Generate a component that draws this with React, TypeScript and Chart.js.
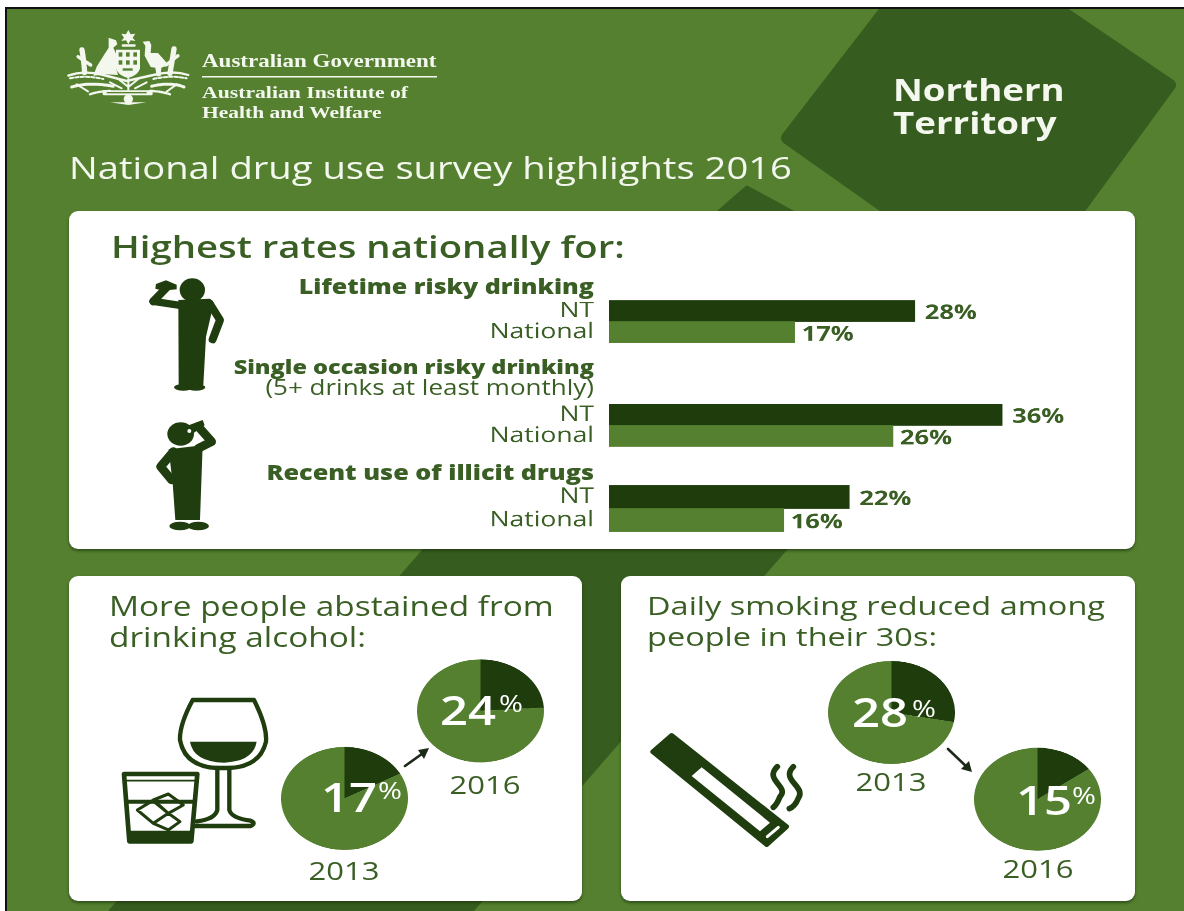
import React, { useEffect, useRef } from "react";
import { Chart, registerables } from "chart.js";

Chart.register(...registerables);

// ---- data ----
const barCategories = ["NT", "National"];
const lifetimeRisky = [28, 17];
const singleOccasion = [36, 26];
const illicitDrugs = [22, 16];

const abstain2013 = [17, 83];
const abstain2016 = [24, 76];
const smoking2013 = [28, 72];
const smoking2016 = [15, 85];

// ---- style ----
const FONT = '"Open Sans", sans-serif';
const SERIF = '"Liberation Serif", serif';
const BG = "#54802f";
const DEEP = "#375c1f";
const DARK = "#1e3c0c";
const TEXT = "#3a5f24";
const ICON = "#1f3d0e";
const LIGHT = "#f3f7ee";
const S = 103 / 127; // the picture is squeezed vertically
const Y = (v: number) => v / S;

const barValuePlugin = {
  id: "barValues",
  afterDatasetsDraw(chart: any) {
    const ctx = chart.ctx;
    const meta = chart.getDatasetMeta(0);
    ctx.save();
    ctx.fillStyle = TEXT;
    ctx.font = `700 25.5px ${FONT}`;
    ctx.textAlign = "left";
    ctx.textBaseline = "middle";
    meta.data.forEach((el: any, i: number) => {
      ctx.fillText(`${chart.data.datasets[0].data[i]}%`, el.x + (i === 0 ? 10 : 7), el.y + 3);
    });
    ctx.restore();
  },
};

function BarGroup({ values, top, height }: { values: number[]; top: number; height: number }) {
  const ref = useRef<HTMLCanvasElement>(null);
  const pad = 5;
  const h = Math.round(Y(height + pad * 2));
  useEffect(() => {
    const chart = new Chart(ref.current!, {
      type: "bar",
      data: {
        labels: barCategories,
        datasets: [
          {
            data: values,
            backgroundColor: [DARK, BG],
            barPercentage: 1,
            categoryPercentage: 1,
          },
        ],
      },
      options: {
        indexAxis: "y",
        animation: false,
        responsive: false,
        maintainAspectRatio: false,
        devicePixelRatio: 2,
        layout: { padding: { top: Y(pad), bottom: Y(pad), left: 0, right: 0 } },
        plugins: { legend: { display: false }, tooltip: { enabled: false } },
        scales: {
          x: { display: false, min: 0, max: 50 },
          y: {
            grid: { display: false, drawTicks: false },
            border: { display: false },
            ticks: { color: TEXT, padding: 15, font: { family: FONT, size: 26.5, weight: 500 }, autoSkip: false },
            afterFit(s: any) {
              s.width = 159;
              s.paddingTop = 0;
              s.paddingBottom = 0;
            },
          },
        },
      } as any,
      plugins: [barValuePlugin],
    });
    return () => chart.destroy();
  }, []);
  return (
    <canvas
      ref={ref}
      width={705}
      height={h}
      style={{ position: "absolute", left: 450, top: Y(top - pad) }}
    />
  );
}

function Pie({ values, cx, cy }: { values: number[]; cx: number; cy: number }) {
  const ref = useRef<HTMLCanvasElement>(null);
  const D = 127;
  useEffect(() => {
    const chart = new Chart(ref.current!, {
      type: "pie",
      data: {
        labels: ["Share", "Rest"],
        datasets: [{ data: values, backgroundColor: [DARK, BG], borderWidth: 0 }],
      },
      options: {
        animation: false,
        responsive: false,
        devicePixelRatio: 2,
        layout: { padding: 0 },
        plugins: { legend: { display: false }, tooltip: { enabled: false } },
      } as any,
    });
    return () => chart.destroy();
  }, []);
  return (
    <canvas
      ref={ref}
      width={D}
      height={D}
      style={{ position: "absolute", left: cx - D / 2, top: Y(cy) - D / 2 }}
    />
  );
}

function T(p: {
  x: number;
  y: number;
  size: number;
  children: React.ReactNode;
  color?: string;
  weight?: number;
  right?: boolean;
  center?: boolean;
  family?: string;
}) {
  const shift = p.right ? "-100%" : p.center ? "-50%" : "0";
  return (
    <div
      style={{
        position: "absolute",
        left: p.x,
        top: Y(p.y),
        transform: `translate(${shift}, -50%)`,
        fontFamily: p.family || FONT,
        fontSize: p.size,
        fontWeight: p.weight || 400,
        color: p.color || TEXT,
        lineHeight: 1,
        whiteSpace: "nowrap",
      }}
    >
      {p.children}
    </div>
  );
}

function Card({ x, y, w, h }: { x: number; y: number; w: number; h: number }) {
  return (
    <div
      style={{
        position: "absolute",
        left: x,
        top: y,
        width: w,
        height: h,
        background: "#fff",
        borderRadius: 9,
        boxShadow: "0 2px 3px rgba(20,40,10,0.55)",
      }}
    />
  );
}

function Backdrop() {
  return (
    <svg width={1184} height={911} style={{ position: "absolute", left: 0, top: 0 }}>
      <rect x={7} y={9} width={1177} height={902} fill={BG} />
      <polygon
        points="787,138 898,-6 1036,-6 1170,85 1075,215 896,215"
        fill={DEEP}
        stroke={DEEP}
        strokeWidth={12}
        strokeLinejoin="round"
      />
      <polygon
        points="747,187 795,213 1077,213 472,911 110,911 717,213"
        fill={DEEP}
        stroke={DEEP}
        strokeWidth={3}
        strokeLinejoin="round"
      />
      <rect x={0} y={0} width={1184} height={7} fill="#fff" />
      <rect x={0} y={0} width={5} height={911} fill="#fff" />
      <rect x={5} y={7} width={1179} height={2} fill="#111" />
      <rect x={5} y={7} width={2} height={904} fill="#111" />
    </svg>
  );
}

function Crest() {
  return (
    <svg width={1184} height={911} style={{ position: "absolute", left: 0, top: 0, filter: "blur(0.4px)" }}>
      <g transform="translate(60 25) scale(0.3333)" fill={LIGHT} stroke="none">
        <polygon points="205,15 212,28 226,26 218,38 226,48 212,46 205,58 198,46 184,48 192,38 184,26 198,28" />
        <rect x="185" y="58" width="42" height="7" rx="3" />
        {/* kangaroo */}
        <path d="M146 38 L168 46 L172 58 L160 68 L170 90 L168 128 L174 150 L135 148 L100 152 L110 125 L132 90 L146 68 Z" />
        {/* emu */}
        <path d="M248 50 L268 48 L274 60 L272 84 L294 84 L326 120 L304 128 L302 154 L290 154 L286 128 L272 126 L254 92 L256 62 Z" />
        {/* shield */}
        <path d="M168 74 L240 74 L240 130 Q236 150 204 160 Q172 150 168 130 Z" />
        <g fill={BG}>
          <rect x="176" y="82" width="11" height="13" />
          <rect x="198" y="82" width="11" height="13" />
          <rect x="220" y="82" width="11" height="13" />
          <rect x="176" y="106" width="11" height="13" />
          <rect x="198" y="106" width="11" height="13" />
          <rect x="220" y="106" width="11" height="13" />
          <rect x="188" y="130" width="30" height="7" />
        </g>
        {/* wattle */}
        <g fill="none" stroke={LIGHT} strokeLinecap="round">
          <path d="M25 152 Q70 135 130 150 L200 168 L280 150 Q340 135 385 150" strokeWidth="7" />
          <path d="M30 160 Q80 150 130 162 M280 162 Q330 150 380 160" strokeWidth="6" strokeDasharray="10 6" />
          <path d="M35 186 Q90 170 160 184 M275 184 Q330 170 372 186" strokeWidth="9" strokeDasharray="9 4" />
          <path d="M50 178 L85 200 M350 178 L320 200" strokeWidth="6" strokeDasharray="7 4" />
          <path d="M66 75 Q72 110 74 145 M342 72 Q336 110 330 145" strokeWidth="16" strokeDasharray="8 4" />
          <path d="M54 95 L92 120 M354 92 L318 120" strokeWidth="10" strokeDasharray="6 4" />
          <path d="M90 208 Q120 198 150 198 M270 198 Q300 198 330 208" strokeWidth="7" strokeDasharray="7 4" />
          <path d="M175 162 L205 186 L235 162 M205 162 L205 195 M150 172 L185 190 M260 172 L225 190" strokeWidth="6" />
        </g>
        <rect x="128" y="196" width="150" height="15" rx="4" />
        <g fill={BG}>
          <rect x="140" y="201" width="120" height="4" />
        </g>
        <circle cx="205" cy="222" r="14" />
        <path d="M150 232 L260 232 L205 240 Z" />
      </g>
    </svg>
  );
}

function Icons() {
  return (
    <svg width={1184} height={911} style={{ position: "absolute", left: 0, top: 0 }}>
      {/* upper drinker */}
      <g transform="translate(130 270) scale(0.3333)" fill={ICON} stroke={ICON} strokeLinejoin="round" strokeLinecap="round">
        <ellipse cx="187" cy="60" rx="38" ry="35" stroke="none" />
        <path d="M78 42 L108 31 L140 44 L140 58 L100 62 L76 56 Z" stroke="none" />
        <path d="M70 94 L108 55" fill="none" strokeWidth="24" />
        <path d="M70 94 L150 106" fill="none" strokeWidth="22" />
        <path d="M145 90 L240 86 Q258 98 248 114 L228 200 L220 345 L146 345 Z" stroke="none" />
        <path d="M240 102 L270 150 L248 208" fill="none" strokeWidth="24" />
        <ellipse cx="160" cy="352" rx="28" ry="10" stroke="none" />
        <ellipse cx="198" cy="352" rx="28" ry="10" stroke="none" />
      </g>
      {/* lower drinker */}
      <g transform="translate(130 270) scale(0.3333)" fill={ICON} stroke={ICON} strokeLinejoin="round" strokeLinecap="round">
        <ellipse cx="152" cy="492" rx="40" ry="35" stroke="none" />
        <path d="M176 466 L218 450 L224 466 L192 488 Z" stroke="none" />
        <circle cx="178" cy="483" r="6" fill="#fff" stroke="none" />
        <path d="M205 470 L245 515 L205 535" fill="none" strokeWidth="26" />
        <path d="M116 538 L218 526 L210 750 L136 750 L128 640 Z" stroke="none" />
        <path d="M130 545 L92 590 L125 630" fill="none" strokeWidth="26" />
        <ellipse cx="150" cy="768" rx="32" ry="13" stroke="none" />
        <ellipse cx="205" cy="768" rx="32" ry="13" stroke="none" />
      </g>
      {/* wine glass and tumbler */}
      <g transform="translate(100 650) scale(0.3333)" fill="none" stroke={ICON} strokeLinejoin="round" strokeLinecap="round">
        <path d="M278 150 L462 150 Q502 230 498 275 Q480 350 388 354 L352 354 Q255 350 240 270 Q238 225 278 150 Z" strokeWidth="13" />
        <path d="M270 275 L470 275 Q460 335 372 338 Q280 335 270 275 Z" fill={ICON} stroke="none" />
        <path d="M352 354 L352 480 Q345 508 290 514 M388 354 L388 480 Q395 505 452 512 Q470 520 452 528 L285 528" strokeWidth="13" />
        <path d="M72 372 L292 372 L274 574 L88 574 Z" strokeWidth="14" fill="#fff" />
        <path d="M80 392 L288 392" strokeWidth="5" />
        <path d="M80 455 L284 455" strokeWidth="12" />
        <path d="M86 545 L276 545 L274 574 L88 574 Z" fill={ICON} strokeWidth="6" />
        <path d="M112 480 L158 452 L205 490 L160 520 Z M160 450 L205 432 L250 465 L205 490 Z M160 520 L205 490 L240 515 L205 540 Z" strokeWidth="9" />
      </g>
      {/* cigarette */}
      <g transform="translate(630 650) scale(0.3333)" strokeLinejoin="round" strokeLinecap="round">
        <path d="M125 256 L470 530 L410 584 L68 305 Z" fill={ICON} stroke={ICON} strokeWidth="14" />
        <path d="M215 352 L420 518 L390 544 L185 378 Z" fill="#fff" />
        <path d="M445 532 L412 560" stroke="#fff" strokeWidth="9" fill="none" />
        <g fill="none" stroke={ICON} strokeWidth="17">
          <path d="M442 350 C400 390 480 410 450 440 Q440 465 430 472" />
          <path d="M490 350 C450 390 530 410 505 445 Q495 470 478 476" />
        </g>
      </g>
      {/* arrows */}
      <g fill="none" stroke="#1c2a18" strokeWidth="2.6" strokeLinecap="round">
        <path d="M405 766 L426 751" />
        <path d="M948 749 L969 769" />
      </g>
      <polygon points="429,748 418,750 424,759" fill="#1c2a18" />
      <polygon points="972,772 969,761 961,769" fill="#1c2a18" />
    </svg>
  );
}

function PieText({ x, y, value, px, py }: { x: number; y: number; value: number; px: number; py: number }) {
  return (
    <>
      <T x={x} y={y} size={49} weight={600} color="#fff">{value}</T>
      <T x={px} y={py} size={29} weight={500} color="#fff">%</T>
    </>
  );
}

export default function App() {
  return (
    <div style={{ position: "fixed", left: 0, top: 0, width: 1184, height: 911, overflow: "hidden", background: "#fff" }}>
      <Backdrop />
      <Crest />
      <Card x={69} y={211} w={1066} h={338} />
      <Card x={69} y={576} w={513} h={325} />
      <Card x={621} y={576} w={514} h={325} />
      <Icons />
      <div
        style={{
          position: "absolute",
          left: 0,
          top: 0,
          width: 1184,
          height: Y(911),
          transformOrigin: "0 0",
          transform: `scaleY(${S})`,
        }}
      >
        <T x={202} y={61} size={23} weight={700} color={LIGHT} family={SERIF}>Australian Government</T>
        <T x={202} y={93} size={21.7} weight={700} color={LIGHT} family={SERIF}>Australian Institute of</T>
        <T x={202} y={113} size={21.5} weight={700} color={LIGHT} family={SERIF}>Health and Welfare</T>
        <T x={69} y={167} size={38.2} weight={500} color={LIGHT}>National drug use survey highlights 2016</T>
        <T x={893} y={90} size={36.7} weight={700} color={LIGHT}>Northern</T>
        <T x={893} y={123} size={36.7} weight={700} color={LIGHT}>Territory</T>

        <T x={111} y={246} size={38.3} weight={600}>Highest rates nationally for:</T>
        <T x={594} y={286} size={25} weight={800} right>Lifetime risky drinking</T>
        <T x={594} y={367} size={23.5} weight={800} right>Single occasion risky drinking</T>
        <T x={594} y={387} size={26} weight={500} right>(5+ drinks at least monthly)</T>
        <T x={594} y={473} size={25.2} weight={800} right>Recent use of illicit drugs</T>

        <BarGroup values={lifetimeRisky} top={300} height={43} />
        <BarGroup values={singleOccasion} top={404} height={43} />
        <BarGroup values={illicitDrugs} top={485} height={47} />

        <T x={109} y={606} size={33.4} weight={500}>More people abstained from</T>
        <T x={109} y={637} size={33.4} weight={500}>drinking alcohol:</T>
        <T x={647} y={606} size={32.5} weight={500}>Daily smoking reduced among</T>
        <T x={647} y={637} size={32.5} weight={500}>people in their 30s:</T>

        <Pie values={abstain2013} cx={344.5} cy={798.5} />
        <Pie values={abstain2016} cx={480.5} cy={711} />
        <Pie values={smoking2013} cx={891.5} cy={712.5} />
        <Pie values={smoking2016} cx={1037.5} cy={799} />

        <PieText value={abstain2013[0]} x={321} y={797} px={378} py={790} />
        <PieText value={abstain2016[0]} x={440} y={710} px={499} py={702} />
        <PieText value={smoking2013[0]} x={852} y={712} px={912} py={708} />
        <PieText value={smoking2016[0]} x={1016} y={800} px={1072} py={795} />

        <T x={344} y={870} size={31} weight={500} center>2013</T>
        <T x={485} y={784} size={31} weight={500} center>2016</T>
        <T x={891} y={782} size={31} weight={500} center>2013</T>
        <T x={1038} y={869} size={31} weight={500} center>2016</T>
      </div>
      <svg width={1184} height={911} style={{ position: "absolute", left: 0, top: 0, pointerEvents: "none" }}>
        <rect x={202} y={76} width={235} height={1.5} fill={LIGHT} />
      </svg>
    </div>
  );
}
